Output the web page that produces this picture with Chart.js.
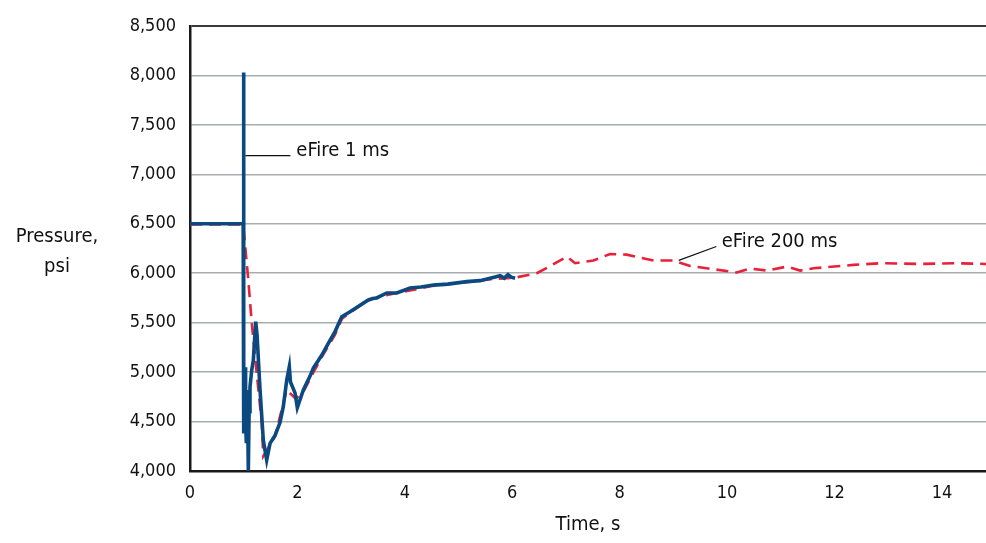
<!DOCTYPE html>
<html>
<head>
<meta charset="utf-8">
<script src="https://cdn.jsdelivr.net/npm/chart.js@4.4.1/dist/chart.umd.min.js"></script>
<style>
  body { margin: 0; background: #fff; }
  #wrap { width: 986px; height: 543px; }
</style>
</head>
<body>
<div id="wrap"><canvas id="pressure" width="986" height="543"></canvas></div>
<script>
const fontName = "'Liberation Sans Narrow', 'DejaVu Sans Condensed', 'Roboto', sans-serif";

// eFire 1 ms gauge (time s, pressure psi)
const fastTime = [
  0, 0.99, 0.995, 1.0, 1.005, 1.012, 1.018, 1.024, 1.03, 1.04, 1.048, 1.056,
  1.065, 1.074, 1.086, 1.1, 1.117, 1.149, 1.179, 1.223, 1.248, 1.304, 1.365,
  1.428, 1.49, 1.583, 1.676, 1.737, 1.801, 1.849, 1.87, 1.894, 1.955, 1.998,
  2.11, 2.235, 2.296, 2.452, 2.575, 2.7, 2.825, 2.98, 3.32, 3.4, 3.477, 3.663,
  3.849, 4.097, 4.3, 4.531, 4.8, 5.153, 5.4, 5.587, 5.7, 5.773, 5.85, 5.92,
  5.98, 6.052
];
const fastPressure = [
  6500, 6500, 8030, 5900, 4380, 4700, 4450, 5050, 4600, 4500, 4300, 4820,
  4450, 4520, 4000, 4600, 4850, 5020, 5120, 5510, 5380, 4820, 4310,
  4110, 4280, 4360, 4490, 4650, 4920, 5055, 4900, 4870, 4790, 4640,
  4820, 4960, 5040, 5170, 5290, 5410, 5560, 5610, 5730, 5745, 5750, 5800,
  5800, 5850, 5860, 5880, 5890, 5915, 5925, 5950, 5965, 5975, 5950, 5985,
  5960, 5950
];

// eFire 200 ms gauge (time s, pressure psi)
const slowTime = [
  0, 0.99, 1.086, 1.149, 1.242, 1.335, 1.365, 1.583, 1.708, 1.8, 1.97, 2.11,
  2.3, 2.45, 2.7, 2.83, 3.0, 3.3, 3.5, 3.85, 4.5, 5.15, 5.6, 6.05, 6.456,
  6.7, 7.015, 7.17, 7.51, 7.82, 8.13, 8.63, 9.0, 9.31, 9.62, 10.18, 10.43,
  10.74, 11.11, 11.36, 11.61, 12.35, 12.85, 13.59, 14.21, 14.82
];
const slowPressure = [
  6492, 6492, 5930, 5500, 4990, 4490, 4150, 4350, 4620, 4820, 4730, 4800,
  5000, 5150, 5380, 5540, 5610, 5720, 5760, 5800, 5870, 5910, 5940, 5955, 6000,
  6070, 6168, 6101, 6128, 6195, 6188, 6128, 6128, 6074, 6050, 6007, 6047,
  6027, 6067, 6027, 6050, 6084, 6101, 6094, 6101, 6094
];

const xTicks = [0, 2, 4, 6, 8, 10, 12, 14];
const yTicks = [4000, 4500, 5000, 5500, 6000, 6500, 7000, 7500, 8000, 8500];

function toPoints(xs, ys) {
  return xs.map((x, i) => ({ x: x, y: ys[i] }));
}

// labels and leader lines, placed in data units
const labelsPlugin = {
  id: 'labels',
  afterDraw(chart) {
    const ctx = chart.ctx;
    const x = chart.scales.x;
    const y = chart.scales.y;

    ctx.save();
    ctx.strokeStyle = '#111';
    ctx.lineWidth = 1.2;
    ctx.beginPath();
    ctx.moveTo(x.getPixelForValue(1.03), y.getPixelForValue(7190));
    ctx.lineTo(x.getPixelForValue(1.87), y.getPixelForValue(7190));
    ctx.moveTo(x.getPixelForValue(9.1), y.getPixelForValue(6130));
    ctx.lineTo(x.getPixelForValue(9.8), y.getPixelForValue(6270));
    ctx.stroke();

    ctx.fillStyle = '#111';
    ctx.font = '20px ' + fontName;
    ctx.textBaseline = 'middle';
    ctx.textAlign = 'left';
    ctx.fillText('eFire 1 ms', x.getPixelForValue(1.98), y.getPixelForValue(7240));
    ctx.fillText('eFire 200 ms', x.getPixelForValue(9.9), y.getPixelForValue(6320));

    ctx.textAlign = 'center';
    ctx.fillText('Pressure,', 57, 237);
    ctx.fillText('psi', 57, 267);
    ctx.fillText('Time, s', (x.left + x.right) / 2, 525);
    ctx.restore();
  }
};

new Chart(document.getElementById('pressure'), {
  type: 'line',
  data: {
    datasets: [
      {
        label: 'eFire 1 ms',
        data: toPoints(fastTime, fastPressure),
        borderColor: '#0a4a80',
        borderWidth: 3.6,
        pointRadius: 0,
        tension: 0
      },
      {
        label: 'eFire 200 ms',
        data: toPoints(slowTime, slowPressure),
        borderColor: '#e8203a',
        borderWidth: 2.6,
        borderDash: [12, 7],
        pointRadius: 0,
        tension: 0
      }
    ]
  },
  options: {
    responsive: false,
    animation: false,
    layout: { padding: { top: 26, right: 0, left: 0, bottom: 0 } },
    plugins: {
      legend: { display: false },
      tooltip: { enabled: false }
    },
    scales: {
      x: {
        type: 'linear',
        min: 0,
        max: 14.82,
        afterFit: (scale) => { scale.height = 72; },
        afterBuildTicks: (scale) => {
          scale.ticks = xTicks.map((v) => ({ value: v }));
        },
        grid: { display: false, drawTicks: false },
        border: { display: true, color: '#1a1a1a', width: 2.5 },
        ticks: {
          padding: 12,
          color: '#111',
          font: { family: fontName, size: 18 },
          maxRotation: 0
        }
      },
      y: {
        min: 4000,
        max: 8500,
        afterFit: (scale) => { scale.width = 190; },
        afterBuildTicks: (scale) => {
          scale.ticks = yTicks.map((v) => ({ value: v }));
        },
        grid: {
          drawTicks: false,
          color: (c) => (c.tick && c.tick.value === 8500 ? '#3a3a3a' : '#a9acae'),
          lineWidth: (c) => (c.tick && c.tick.value === 8500 ? 2 : 1.5)
        },
        border: { display: true, color: '#1a1a1a', width: 2.5 },
        ticks: {
          padding: 14,
          color: '#111',
          font: { family: fontName, size: 18 },
          callback: (v) => v.toLocaleString('en-US')
        }
      }
    }
  },
  plugins: [labelsPlugin]
});
</script>
</body>
</html>
